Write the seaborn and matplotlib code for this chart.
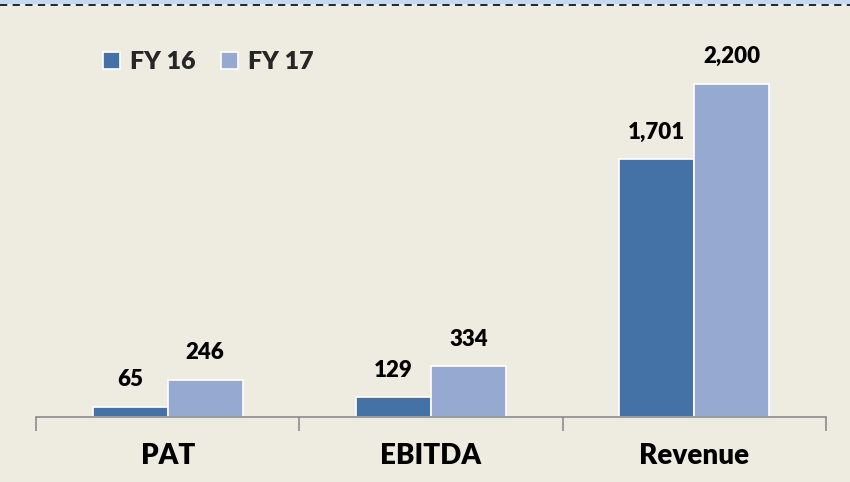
import seaborn as sns
import matplotlib.pyplot as plt
import pandas as pd
from matplotlib.lines import Line2D
from matplotlib.patches import Rectangle

" DATA "
categories = ['PAT', 'EBITDA', 'Revenue']
fy16 = [65, 129, 1701]
fy17 = [246, 334, 2200]
years = ['FY 16', 'FY 17']
labels16 = ['65', '129', '1,701']
labels17 = ['246', '334', '2,200']

BG = '#EEEBE0'
COLORS = ['#4472A7', '#95A9D1']
W = 'heavy'

sns.set_theme(style="white")
plt.rcParams['font.family'] = ['Lato', 'DejaVu Sans']

df = pd.DataFrame({
    'metric': categories * 2,
    'year': [years[0]] * 3 + [years[1]] * 3,
    'value': fy16 + fy17,
})

fig = plt.figure(figsize=(8.5, 4.82), dpi=100, facecolor=BG)
ax = fig.add_axes([36 / 850, 65 / 482, 790 / 850, 394 / 482])
ax.set_facecolor(BG)

sns.barplot(data=df, x='metric', y='value', hue='year', palette=COLORS,
            width=0.57, gap=0, edgecolor='white', linewidth=1.2,
            saturation=1, ax=ax, errorbar=None)

ax.set_xlim(-0.5, 2.5)
ax.set_ylim(0, 2600)
ax.set_xlabel('')
ax.set_ylabel('')
ax.set_yticks([])

for cont, labs in zip(ax.containers, [labels16, labels17]):
    ax.bar_label(cont, labels=labs, padding=12, fontsize=16, fontweight=W,
                 color='black')

for s in ['top', 'right', 'left']:
    ax.spines[s].set_visible(False)
ax.spines['bottom'].set_color('#8C8C8C')
ax.spines['bottom'].set_linewidth(1.2)

ax.set_xticks([0, 1, 2])
ax.set_xticklabels(categories, fontsize=20, fontweight=W, color='black')
ax.set_xticks([-0.5, 0.5, 1.5, 2.5], minor=True)
ax.tick_params(axis='x', which='major', length=0, pad=19)
ax.tick_params(axis='x', which='minor', length=10, width=1.2, color='#8C8C8C',
               bottom=True, direction='out')

ax.legend(loc='center left', bbox_to_anchor=(80 / 850, 1 - 62 / 482),
          bbox_transform=fig.transFigure, ncol=2, frameon=False,
          handlelength=0.7, handleheight=0.7, handletextpad=0.4,
          columnspacing=1.0, prop={'size': 18, 'weight': W})

# top border strip
fig.patches.append(Rectangle((0, 1 - 4 / 482), 1, 4 / 482, transform=fig.transFigure,
                             facecolor='#C6D9F0', edgecolor='none', zorder=0))
fig.add_artist(Line2D([0, 1], [1 - 4.5 / 482] * 2, transform=fig.transFigure,
                      color='#101828', linewidth=1.3, linestyle=(0, (4, 3))))

plt.savefig('out.png', dpi=100, facecolor=BG)
